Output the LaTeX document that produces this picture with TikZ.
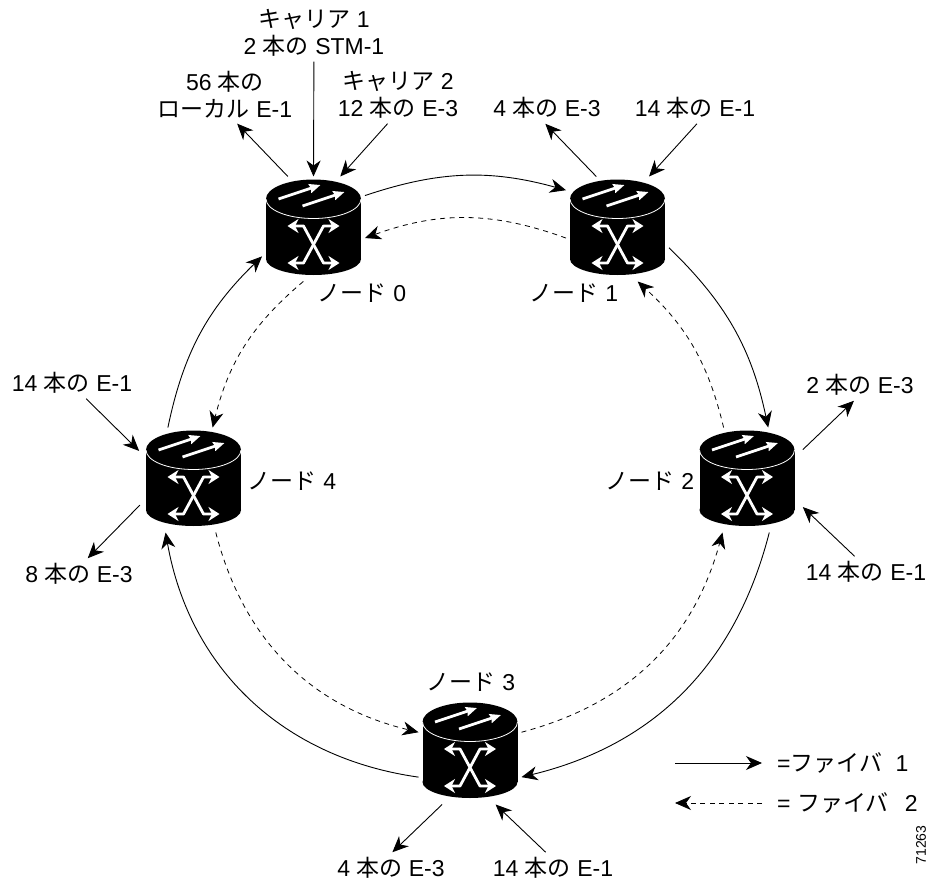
\documentclass[tikz,border=0pt]{standalone}
\usepackage{fontspec}
\setmainfont{Liberation Sans}
\newfontfamily\jpfont{Noto Sans CJK JP}
\newcommand{\ja}[1]{{\jpfont #1}}
\usetikzlibrary{arrows.meta}

\begin{document}
\begin{tikzpicture}[x=1pt, y=-1pt,
  every node/.style = {font=\fontsize{23}{27}\selectfont, align=center, inner sep=5pt},
  fiberone/.style = {draw, line width=0.9pt, -{Stealth[length=16pt, width=14pt, inset=5pt]}},
  fibertwo/.style = {fiberone, line width=0.8pt, dash pattern=on 5pt off 4.5pt},
  switchbox/.style = {minimum width=95pt, minimum height=97pt, inner sep=0pt, outer sep=4pt},
  whitearrow/.style = {draw=white, line width=2.8pt, line join=bevel},
  xtip/.tip = {Stealth[length=11pt, width=14pt, inset=3.5pt]},
  toptip/.tip = {Stealth[length=11pt, width=9pt, inset=1pt]},
  pics/switchbody/.style = {code = {
    \fill (-47.5,-30) rectangle (47.5,30);
    \fill (0,30) ellipse [x radius=47.5pt, y radius=16pt];
    \fill (0,-30) ellipse [x radius=47.5pt, y radius=19.5pt];
    \draw[white, line width=0.8pt] (-47.5,-30) arc [start angle=180, end angle=360, x radius=47.5pt, y radius=19.5pt];
    \draw[whitearrow, -toptip] (-35,-30) -- (7,-44);
    \draw[whitearrow, -toptip] (-11,-23) -- (31,-37);
    \draw[whitearrow, xtip-xtip] (-26,-3) -- (-10,-3) -- (10,34) -- (26,34);
    \draw[whitearrow, xtip-xtip] (26,-3) -- (10,-3) -- (-10,34) -- (-26,34);
  }}]
  \useasboundingbox (0,0) rectangle (930,883);

  % ring nodes
  \foreach \name/\x/\y in {n0/313.5/229, n1/617.5/229, n2/747/480, n3/470/752, n4/193.5/480} {
    \node[switchbox] (\name) at (\x,\y) {};
    \pic at (\x,\y) {switchbody};
  }

  % node names
  \node (name0) at (362,293) {\ja{ノード} 0};
  \node (name1) at (574,293) {\ja{ノード} 1};
  \node (name2) at (650,481) {\ja{ノード} 2};
  \node (name3) at (471,682) {\ja{ノード} 3};
  \node (name4) at (292,481) {\ja{ノード} 4};

  % circuit labels
  \node (car1) at (314,33) {\ja{キャリア} 1\\2 \ja{本の} STM-1};
  \node (local0) at (225,95) {56 \ja{本の}\\\ja{ローカル} E-1};
  \node (car2) at (398,95) {\ja{キャリア} 2\\12 \ja{本の} E-3};
  \node (e3a) at (547,108) {4 \ja{本の} E-3};
  \node (e1a) at (695,108) {14 \ja{本の} E-1};
  \node (e3b) at (860,385) {2 \ja{本の} E-3};
  \node (e1b) at (866,572) {14 \ja{本の} E-1};
  \node (e3c) at (391,868) {4 \ja{本の} E-3};
  \node (e1c) at (553,868) {14 \ja{本の} E-1};
  \node (e3d) at (79,574) {8 \ja{本の} E-3};
  \node (e1d) at (72,383) {14 \ja{本の} E-1};

  % solid ring
  \draw[fiberone] (n0.33) to[bend left=17] (n1.143);
  \draw[fiberone] (n1.-20) to[bend left=17] (n2.68);
  \draw[fiberone] (n2.-67) to[bend left=31] (n3.-26);
  \draw[fiberone] (n3.206) to[bend left=36] (n4.242);
  \draw[fiberone] (n4.116) to[bend left=17] (n0.208);

  % dashed ring
  \draw[fibertwo] (n1.190) to[bend right=20] (n0.-10);
  \draw[fibertwo] (n0.259) to[bend right=18] (n4.70);
  \draw[fibertwo] (n4.-67) to[bend right=31] (n3.159);
  \draw[fibertwo] (n3.21) to[bend right=30] (n2.245);
  \draw[fibertwo] (n2.114) to[bend right=17] (n1.-69);

  % circuits
  \draw[fiberone] (n0.116) -- (local0.-67);
  \draw[fiberone] (car1) -- (n0.90);
  \draw[fiberone] (car2.-110) -- (n0.63);
  \draw[fiberone] (n1.112) -- (e3a.-96);
  \draw[fiberone] (e1a.-83) -- (n1.59);
  \draw[fiberone, shorten <=6pt] (n2.27) -- (e3b.-111);
  \draw[fiberone, shorten >=6pt] (e1b.126) -- (n2.-24);
  \draw[fiberone] (n3.-118) -- (e3c.85);
  \draw[fiberone] (e1c.115) -- (n3.-64);
  \draw[fiberone, shorten <=3pt] (n4.204) -- (e3d.61);
  \draw[fiberone, shorten >=4pt] (e1d.-48) -- (n4.153);

  % key
  \coordinate (keya) at (675,763);
  \coordinate (keyb) at (762,763);
  \coordinate (keyc) at (762,803);
  \coordinate (keyd) at (675,803);
  \node[anchor=west] (keyone) at (772,763) {=\ja{ファイバ}\hspace{7pt} 1};
  \node[anchor=west] (keytwo) at (772,803) {= \ja{ファイバ}\hspace{10pt} 2};
  \draw[fiberone] (keya) -- (keyb);
  \draw[fibertwo] (keyc) -- (keyd);
  \node[rotate=90, font=\fontsize{14}{14}\selectfont] (figid) at (921,845) {71263};
\end{tikzpicture}
\end{document}
